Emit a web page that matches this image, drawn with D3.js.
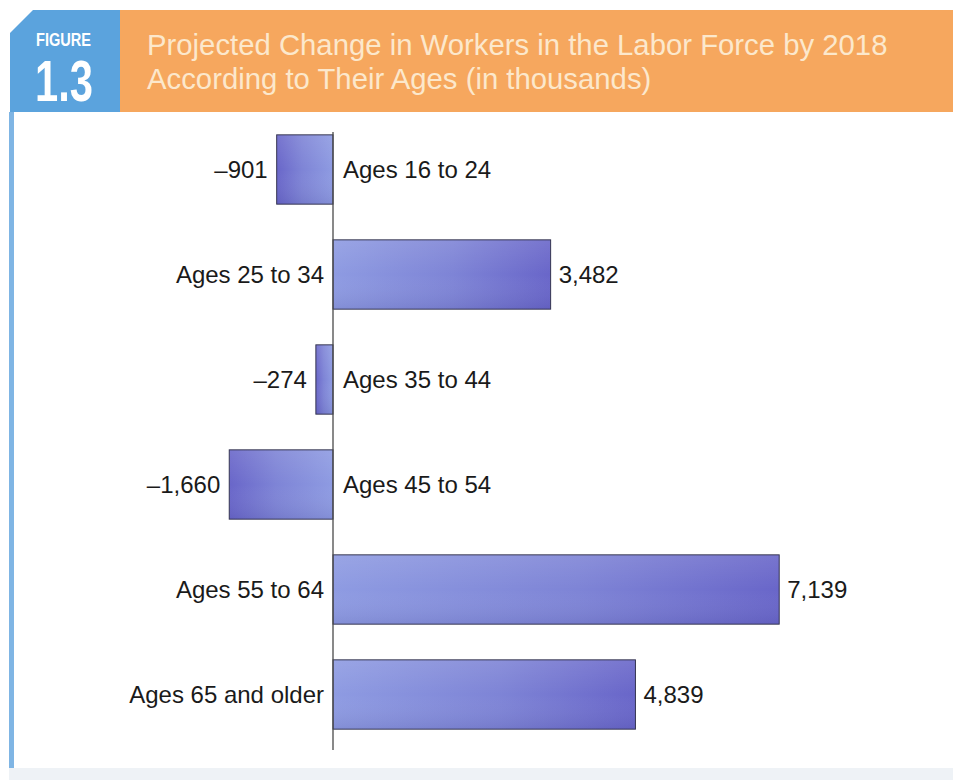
<!DOCTYPE html>
<html>
<head>
<meta charset="utf-8">
<script src="https://cdn.jsdelivr.net/npm/d3@7"></script>
<style>
  html, body { margin: 0; padding: 0; background: #ffffff; }
  svg { display: block; }
</style>
</head>
<body>
<div id="chart"></div>
<script>
// Projected change in labor force by 2018, by age group (thousands)
const categories = ["Ages 16 to 24", "Ages 25 to 34", "Ages 35 to 44", "Ages 45 to 54", "Ages 55 to 64", "Ages 65 and older"];
const values = [-901, 3482, -274, -1660, 7139, 4839];
const valueLabels = ["–901", "3,482", "–274", "–1,660", "7,139", "4,839"];
const titleLines = ["Projected Change in Workers in the Labor Force by 2018", "According to Their Ages (in thousands)"];
const figureTag = "FIGURE";
const figureNumber = "1.3";

const W = 953, H = 780;
const svg = d3.select("#chart").append("svg").attr("width", W).attr("height", H);

// ---- gradients for the bars (light at the axis, darker toward the tip)
const defs = svg.append("defs");
function barGradient(id, x1, x2) {
  const g = defs.append("linearGradient").attr("id", id)
    .attr("x1", x1).attr("x2", x2).attr("y1", 0).attr("y2", 0);
  g.append("stop").attr("offset", "0%").attr("stop-color", "#8e9be2");
  g.append("stop").attr("offset", "55%").attr("stop-color", "#7e84d6");
  g.append("stop").attr("offset", "100%").attr("stop-color", "#6966c9");
}
barGradient("gradPos", 0, 1);
barGradient("gradNeg", 1, 0);
const shade = defs.append("linearGradient").attr("id", "shade")
  .attr("x1", 0).attr("x2", 0).attr("y1", 0).attr("y2", 1);
shade.append("stop").attr("offset", "0%").attr("stop-color", "#ffffff").attr("stop-opacity", 0.10);
shade.append("stop").attr("offset", "50%").attr("stop-color", "#ffffff").attr("stop-opacity", 0.0);
shade.append("stop").attr("offset", "100%").attr("stop-color", "#20206a").attr("stop-opacity", 0.10);

// ---- header band
svg.append("rect").attr("x", 120).attr("y", 10).attr("width", W - 120).attr("height", 102)
  .attr("fill", "#f6a75e");
svg.append("path").attr("d", "M10,33 L33,10 L120,10 L120,112 L10,112 Z").attr("fill", "#5ba3dd");
// blue rule running down the left side and pale strip along the bottom
svg.append("rect").attr("x", 9).attr("y", 112).attr("width", 5).attr("height", 658).attr("fill", "#7fb5e4");
svg.append("rect").attr("x", 9).attr("y", 768).attr("width", W - 9).attr("height", 12).attr("fill", "#eef2f6");

svg.append("text").attr("x", 36).attr("y", 45.5)
  .attr("textLength", 55).attr("lengthAdjust", "spacingAndGlyphs")
  .attr("font-family", "'Liberation Sans Narrow', 'Liberation Sans', Arial, sans-serif")
  .attr("font-weight", "bold").attr("font-size", 18).attr("fill", "#ffffff")
  .text(figureTag);
svg.append("text").attr("x", 35).attr("y", 101)
  .attr("textLength", 58).attr("lengthAdjust", "spacingAndGlyphs")
  .attr("font-family", "'Liberation Sans Narrow', 'Liberation Sans', Arial, sans-serif")
  .attr("font-weight", "bold").attr("font-size", 57).attr("fill", "#ffffff")
  .text(figureNumber);

svg.append("g").selectAll("text").data(titleLines).join("text")
  .attr("x", 147).attr("y", (d, i) => 55 + i * 34)
  .attr("font-family", "'Liberation Sans', Arial, Helvetica, sans-serif")
  .attr("font-size", 29.3).attr("fill", "#fce8cc")
  .text(d => d);

// ---- scales
const x = d3.scaleLinear().domain([-2000, 8000]).range([333 - 125, 333 + 500]);
const y = d3.scaleBand().domain(categories).range([117, 747]).paddingInner(0.34).paddingOuter(0.17);

const font = "'Liberation Sans', Arial, Helvetica, sans-serif";
const rows = categories.map((c, i) => ({ cat: c, v: values[i], label: valueLabels[i] }));

const g = svg.append("g");

// bars
g.selectAll("rect.bar").data(rows).join("rect")
  .attr("class", "bar")
  .attr("x", d => x(Math.min(0, d.v)))
  .attr("width", d => Math.abs(x(d.v) - x(0)))
  .attr("y", d => y(d.cat))
  .attr("height", y.bandwidth())
  .attr("fill", d => d.v >= 0 ? "url(#gradPos)" : "url(#gradNeg)")
  .attr("stroke", "#34344f").attr("stroke-width", 1);
g.selectAll("rect.shade").data(rows).join("rect")
  .attr("class", "shade")
  .attr("x", d => x(Math.min(0, d.v)) + 0.5)
  .attr("width", d => Math.abs(x(d.v) - x(0)) - 1)
  .attr("y", d => y(d.cat) + 0.5)
  .attr("height", y.bandwidth() - 1)
  .attr("fill", "url(#shade)");

// zero axis
g.append("line").attr("x1", x(0)).attr("x2", x(0)).attr("y1", 132).attr("y2", 750)
  .attr("stroke", "#4a4a4a").attr("stroke-width", 1.3);

// category labels: on the side opposite the bar
g.selectAll("text.cat").data(rows).join("text")
  .attr("class", "cat")
  .attr("x", d => d.v >= 0 ? x(0) - 9 : x(0) + 10)
  .attr("y", d => y(d.cat) + y.bandwidth() / 2)
  .attr("dy", "0.36em")
  .attr("text-anchor", d => d.v >= 0 ? "end" : "start")
  .attr("font-family", font).attr("font-size", 24).attr("fill", "#1a1a1a")
  .text(d => d.cat);

// value labels: just past the bar tip
g.selectAll("text.val").data(rows).join("text")
  .attr("class", "val")
  .attr("x", d => d.v >= 0 ? x(d.v) + 8 : x(d.v) - 9)
  .attr("y", d => y(d.cat) + y.bandwidth() / 2)
  .attr("dy", "0.36em")
  .attr("text-anchor", d => d.v >= 0 ? "start" : "end")
  .attr("font-family", font).attr("font-size", 24).attr("fill", "#1a1a1a")
  .text(d => d.label);
</script>
</body>
</html>
